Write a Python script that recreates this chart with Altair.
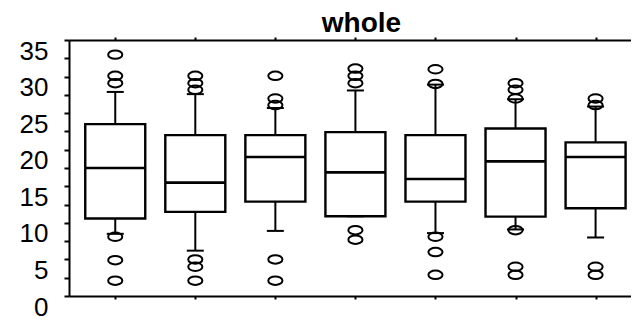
import altair as alt
import pandas as pd

# ---- data ----
positions = [1, 2, 3, 4, 5, 6, 7]
lower = [8.5, 6.2, 8.9, 10.9, 8.6, 9.1, 8.0]
q1 = [10.6, 11.5, 12.9, 10.9, 12.9, 10.85, 12.0]
median = [17.5, 15.5, 19.0, 16.9, 16.0, 18.4, 19.0]
q3 = [23.5, 22.0, 22.0, 22.4, 22.0, 22.9, 21.0]
upper = [27.9, 27.6, 25.7, 28.1, 28.9, 26.9, 25.9]
outliers = [
    [33.0, 30.1, 29.1, 8.1, 4.9, 2.1],
    [30.1, 29.1, 28.2, 5.0, 4.0, 2.1],
    [30.1, 27.0, 26.1, 5.0, 2.1],
    [31.1, 30.1, 29.1, 9.0, 7.7],
    [31.0, 29.0, 8.1, 6.0, 2.9],
    [29.1, 28.2, 27.0, 9.0, 4.0, 2.9],
    [27.0, 26.1, 4.0, 2.9],
]
y_ticks = [0, 2.5, 5, 7.5, 10, 12.5, 15, 17.5, 20, 22.5, 25, 27.5, 30, 32.5, 35]

boxes = pd.DataFrame({"pos": positions, "lower": lower, "q1": q1,
                      "median": median, "q3": q3, "upper": upper})
out_df = pd.DataFrame([{"pos": p, "value": v}
                       for p, vals in zip(positions, outliers) for v in vals])

xscale = alt.Scale(domain=[0.4847, 7.38], nice=False, zero=False)
yscale = alt.Scale(domain=[0, 35], nice=False, zero=True)

yaxis = alt.Axis(values=y_ticks,
                 labelExpr="datum.value % 5 === 0 ? datum.label : ''",
                 labelFont="Liberation Sans", labelFontSize=26, labelColor="black",
                 labelOffset=11, labelPadding=16, labelOverlap=False, labelFlush=False,
                 labelBound=False,
                 tickSize=5, tickWidth=2, tickColor="black",
                 domainWidth=2, domainColor="black", grid=False, title=None)

def xaxis(orient):
    return alt.Axis(orient=orient, values=positions, labels=False, tickSize=3,
                    tickWidth=2, tickColor="black", domainWidth=2,
                    domainColor="black", grid=False, title=None)

X = lambda ax=None: alt.X("pos:Q", scale=xscale, axis=ax)

base = alt.Chart(boxes)
BW = 60

whisk_hi = base.mark_rule(color="black", strokeWidth=2).encode(
    x=X(), y=alt.Y("q3:Q", scale=yscale, axis=yaxis), y2="upper:Q")
whisk_lo = base.mark_rule(color="black", strokeWidth=2).encode(
    x=X(), y=alt.Y("lower:Q", scale=yscale, axis=yaxis), y2="q1:Q")
box = base.mark_bar(size=BW, fill="white", stroke="black", strokeWidth=2.4,
                    opacity=1).encode(
    x=X(xaxis("bottom")), y=alt.Y("q1:Q", scale=yscale, axis=yaxis), y2="q3:Q")
med = base.mark_tick(orient="horizontal", size=BW, thickness=2.6,
                     color="black", opacity=1).encode(
    x=X(xaxis("top")), y=alt.Y("median:Q", scale=yscale, axis=yaxis))
cap_hi = base.mark_tick(orient="horizontal", size=17, thickness=2,
                        color="black", opacity=1).encode(
    x=X(), y=alt.Y("upper:Q", scale=yscale, axis=yaxis))
cap_lo = base.mark_tick(orient="horizontal", size=17, thickness=2,
                        color="black", opacity=1).encode(
    x=X(), y=alt.Y("lower:Q", scale=yscale, axis=yaxis))

ellipse = "M-1,0A1,0.6,0,1,1,1,0A1,0.6,0,1,1,-1,0Z"
outs = alt.Chart(out_df).mark_point(shape=ellipse, size=200, filled=False,
                                    stroke="black", strokeWidth=2,
                                    opacity=1).encode(
    x=X(), y=alt.Y("value:Q", scale=yscale, axis=yaxis))

chart = alt.layer(whisk_hi, whisk_lo, box, med, cap_hi, cap_lo, outs).resolve_axis(
    x="independent"
).properties(
    width=562, height=256,
    autosize="none",
    padding={"left": 61, "top": 32, "right": 0, "bottom": 24},
    title=alt.Title("whole", font="Liberation Sans", fontSize=28,
                    fontWeight="bold", color="black", anchor="middle",
                    dx=11.5, offset=-2),
    background="white",
).configure_view(stroke=None)

chart.save("out.html", embed_options={"renderer": "svg", "actions": False})
